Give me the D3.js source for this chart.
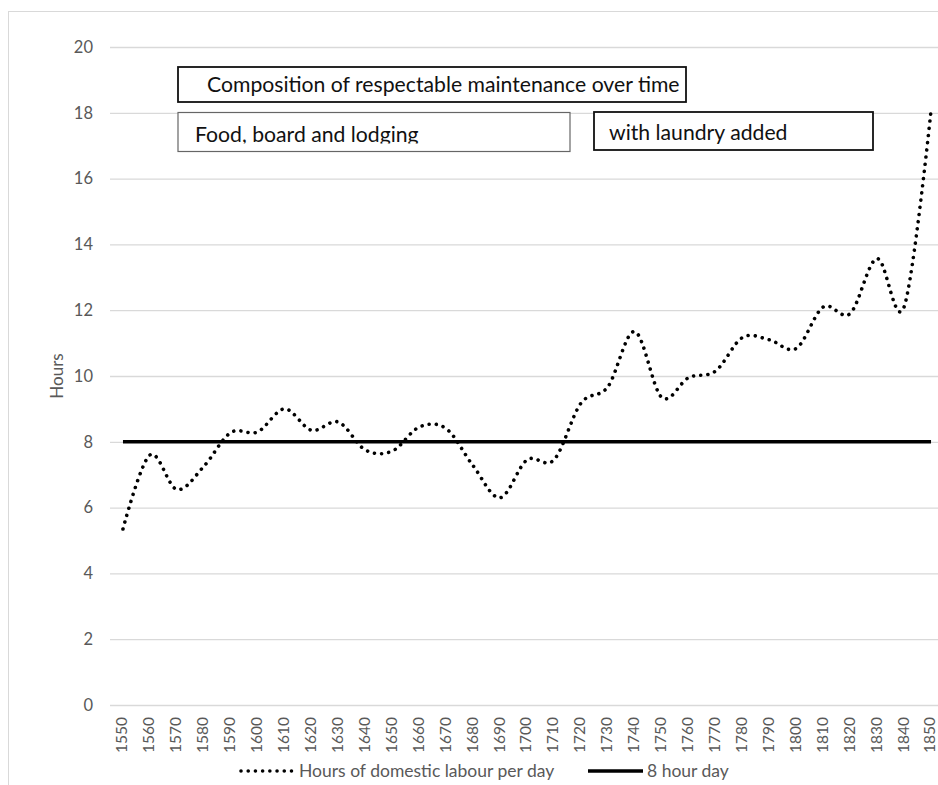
<!DOCTYPE html>
<html>
<head>
<meta charset="utf-8">
<script src="https://cdn.jsdelivr.net/npm/d3@7"></script>
<style>
  body { margin: 0; background: #fff; }
  text { font-family: Lato, Carlito, Calibri, sans-serif; }
</style>
</head>
<body>
<div id="chart"></div>
<script>
// Chart values
const years = ["1550", "1560", "1570", "1580", "1590", "1600", "1610", "1620", "1630", "1640",
  "1650", "1660", "1670", "1680", "1690", "1700", "1710", "1720", "1730", "1740",
  "1750", "1760", "1770", "1780", "1790", "1800", "1810", "1820", "1830", "1840", "1850"]
const domesticHours = [5.35, 7.6, 6.55, 7.25, 8.28, 8.3, 9.0, 8.35, 8.6, 7.75,
  7.72, 8.45, 8.4, 7.27, 6.3, 7.45, 7.45, 9.17, 9.67, 11.35,
  9.35, 9.95, 10.15, 11.17, 11.1, 10.84, 12.1, 11.9, 13.57, 12.1, 18.07]
const eightHourDay = [8, 8, 8, 8, 8, 8, 8, 8, 8, 8, 8, 8, 8, 8, 8, 8,
  8, 8, 8, 8, 8, 8, 8, 8, 8, 8, 8, 8, 8, 8, 8]
const yTicks = [0, 2, 4, 6, 8, 10, 12, 14, 16, 18, 20]
const seriesNames = ["Hours of domestic labour per day", "8 hour day"]
const boxLabels = ["Composition of respectable maintenance over time", "Food, board and lodging", "with laundry added"]

let width = 938
let height = 785
let textColor = "#595959"

let svg = d3.select("#chart").append("svg")
    .attr("width", width)
    .attr("height", height)

// chart frame
svg.append("rect")
    .attr("x", 8.5).attr("y", 11.5)
    .attr("width", 960).attr("height", 800)
    .attr("fill", "#fff").attr("stroke", "#d9d9d9")

let x = d3.scaleBand().domain(years).range([109.5, 944.5])
let y = d3.scaleLinear().domain([0, 20]).range([705, 47])
let cx = (d) => x(d) + x.bandwidth() / 2

// horizontal gridlines
svg.append("g").selectAll("line")
    .data(yTicks)
    .enter().append("line")
    .attr("x1", 110).attr("x2", 945)
    .attr("y1", (d) => y(d) + 0.5).attr("y2", (d) => y(d) + 0.5)
    .attr("stroke", "#d9d9d9").attr("stroke-width", 1.3)

// y axis labels
let yAxis = svg.append("g")
    .attr("transform", "translate(101,0)")
    .call(d3.axisLeft(y).tickValues(yTicks).tickSize(0).tickPadding(8))
yAxis.select(".domain").remove()
yAxis.selectAll("text")
    .attr("fill", textColor)
    .style("font-size", "16.5px")

// x axis labels, rotated
let xAxis = svg.append("g")
    .attr("transform", "translate(0,705)")
    .call(d3.axisBottom(x).tickSize(0))
xAxis.select(".domain").remove()
xAxis.selectAll("text")
    .attr("fill", textColor)
    .style("font-size", "15.5px")
    .attr("transform", "rotate(-90)")
    .attr("text-anchor", "end")
    .attr("x", -12)
    .attr("y", -1)
    .attr("dy", "0.35em")

svg.append("text")
    .attr("transform", "translate(63,376) rotate(-90)")
    .attr("text-anchor", "middle")
    .attr("fill", textColor)
    .style("font-size", "17px")
    .text("Hours")

// series lines
let line = d3.line()
    .x((d, i) => cx(years[i]))
    .y((d) => y(d))

svg.append("path")
    .datum(eightHourDay)
    .attr("d", line)
    .attr("fill", "none")
    .attr("stroke", "#000")
    .attr("stroke-width", 3.6)

svg.append("path")
    .datum(domesticHours)
    .attr("d", line.curve(d3.curveCardinal.tension(0)))
    .attr("fill", "none")
    .attr("stroke", "#000")
    .attr("stroke-width", 3.6)
    .attr("stroke-linecap", "round")
    .attr("stroke-dasharray", "0.01 7.2")

// annotation boxes (the middle one clips its own text, as in the original)
let boxes = [
  {text: boxLabels[0], x: 178, y: 67, w: 508, h: 35, tx: 207, ty: 92, clipH: 34, sw: 1.8, stroke: "#111"},
  {text: boxLabels[1], x: 178, y: 112.5, w: 392, h: 39, tx: 195, ty: 142, clipH: 31, sw: 1.2, stroke: "#666"},
  {text: boxLabels[2], x: 594, y: 112, w: 279, h: 38, tx: 609, ty: 139.5, clipH: 37, sw: 1.8, stroke: "#111"}
]

let defs = svg.append("defs")
boxes.forEach((b, i) => {
  defs.append("clipPath").attr("id", "clip" + i)
      .append("rect").attr("x", b.x).attr("y", b.y).attr("width", b.w).attr("height", b.clipH)
  svg.append("rect")
      .attr("x", b.x).attr("y", b.y)
      .attr("width", b.w).attr("height", b.h)
      .attr("fill", "#fff")
      .attr("stroke", b.stroke).attr("stroke-width", b.sw)
  svg.append("text")
      .attr("clip-path", "url(#clip" + i + ")")
      .attr("x", b.tx).attr("y", b.ty)
      .attr("fill", "#111")
      .style("font-size", "21.2px")
      .text(b.text)
})

// legend
let legend = svg.append("g").attr("transform", "translate(0,771)")
legend.append("line")
    .attr("x1", 241).attr("x2", 292).attr("y1", 0).attr("y2", 0)
    .attr("stroke", "#000").attr("stroke-width", 3.6)
    .attr("stroke-linecap", "round").attr("stroke-dasharray", "0.01 7.2")
legend.append("text")
    .attr("x", 299).attr("dy", "0.35em")
    .attr("fill", textColor).style("font-size", "17.5px")
    .text(seriesNames[0])
legend.append("line")
    .attr("x1", 588).attr("x2", 643).attr("y1", 0).attr("y2", 0)
    .attr("stroke", "#000").attr("stroke-width", 3.6)
legend.append("text")
    .attr("x", 647).attr("dy", "0.35em")
    .attr("fill", textColor).style("font-size", "17.5px")
    .text(seriesNames[1])
</script>
</body>
</html>
